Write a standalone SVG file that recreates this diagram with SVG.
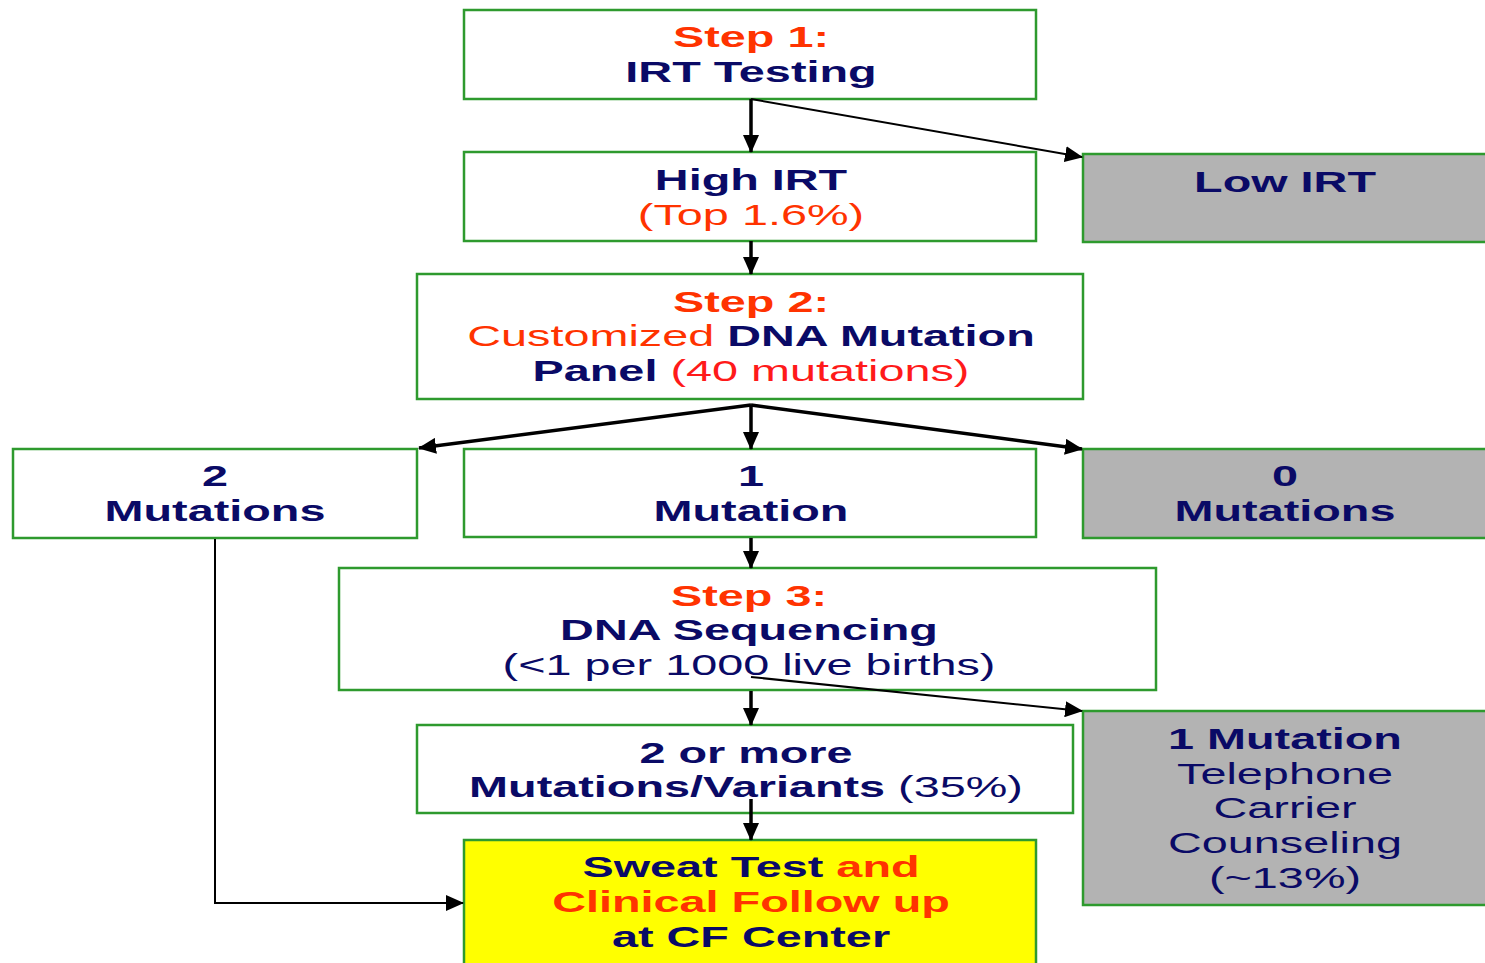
<svg xmlns="http://www.w3.org/2000/svg" width="1485" height="963" viewBox="0 0 1485 963">
<style>
.box{fill:#ffffff;stroke:#2e9a2e;stroke-width:2.5}
.gray{fill:#b3b3b3;stroke:#2e9a2e;stroke-width:2.5}
.yel{fill:#ffff00;stroke:#2e9a2e;stroke-width:2.5}
text{font-family:"Liberation Sans",Arial,sans-serif;font-size:30px;text-anchor:middle}
.b{font-weight:bold}
.n{fill:#0a0a66}
.o{fill:#ff3300}
.r{fill:#ff1a1a}
.c{fill:none;stroke:#000;stroke-width:3.5}
.t{fill:none;stroke:#000;stroke-width:2}
</style>
<defs>
<marker id="ah" markerUnits="userSpaceOnUse" markerWidth="18" markerHeight="16" refX="17" refY="8" orient="auto" viewBox="0 0 18 16">
<path d="M0,0 L18,8 L0,16 z" fill="#000"/>
</marker>
</defs>
<rect width="1485" height="963" fill="#fff"/>
<g id="step1">
<rect class="box" x="464" y="10" width="572" height="89"/>
<g transform="translate(751,0) scale(1.56,1)">
<text class="b o" x="0" y="47">Step 1:</text>
<text class="b n" x="0" y="82">IRT Testing</text>
</g>
</g>
<g id="high-irt">
<rect class="box" x="464" y="152" width="572" height="89"/>
<g transform="translate(751,0) scale(1.56,1)">
<text class="b n" x="0" y="190">High IRT</text>
<text class="o" x="0" y="225">(Top 1.6%)</text>
</g>
</g>
<g id="low-irt">
<rect class="gray" x="1083" y="154" width="410" height="88"/>
<g transform="translate(1285,0) scale(1.56,1)">
<text class="b n" x="0" y="192">Low IRT</text>
</g>
</g>
<g id="step2">
<rect class="box" x="417" y="274" width="666" height="125"/>
<g transform="translate(751,0) scale(1.56,1)">
<text class="b o" x="0" y="312">Step 2:</text>
<text x="0" y="346"><tspan class="o">Customized </tspan><tspan class="b n">DNA Mutation</tspan></text>
<text x="0" y="381"><tspan class="b n">Panel </tspan><tspan class="r">(40 mutations)</tspan></text>
</g>
</g>
<g id="two-mutations">
<rect class="box" x="13" y="449" width="404" height="89"/>
<g transform="translate(215,0) scale(1.56,1)">
<text class="b n" x="0" y="486">2</text>
<text class="b n" x="0" y="521">Mutations</text>
</g>
</g>
<g id="one-mutation">
<rect class="box" x="464" y="449" width="572" height="88"/>
<g transform="translate(751,0) scale(1.56,1)">
<text class="b n" x="0" y="486">1</text>
<text class="b n" x="0" y="521">Mutation</text>
</g>
</g>
<g id="zero-mutations">
<rect class="gray" x="1083" y="449" width="410" height="89"/>
<g transform="translate(1285,0) scale(1.56,1)">
<text class="b n" x="0" y="486">0</text>
<text class="b n" x="0" y="521">Mutations</text>
</g>
</g>
<g id="step3">
<rect class="box" x="339" y="568" width="817" height="122"/>
<g transform="translate(749,0) scale(1.56,1)">
<text class="b o" x="0" y="606">Step 3:</text>
<text class="b n" x="0" y="640">DNA Sequencing</text>
<text class="n" x="0" y="675">(&lt;1 per 1000 live births)</text>
</g>
</g>
<g id="two-or-more">
<rect class="box" x="417" y="725" width="656" height="88"/>
<g transform="translate(746,0) scale(1.56,1)">
<text class="b n" x="0" y="763">2 or more</text>
<text x="0" y="797"><tspan class="b n">Mutations/Variants </tspan><tspan class="n">(35%)</tspan></text>
</g>
</g>
<g id="carrier-counseling">
<rect class="gray" x="1083" y="711" width="410" height="194"/>
<g transform="translate(1285,0) scale(1.56,1)">
<text class="b n" x="0" y="749">1 Mutation</text>
<text class="n" x="0" y="784">Telephone</text>
<text class="n" x="0" y="818">Carrier</text>
<text class="n" x="0" y="853">Counseling</text>
<text class="n" x="0" y="888">(~13%)</text>
</g>
</g>
<g id="sweat-test">
<rect class="yel" x="464" y="840" width="572" height="130"/>
<g transform="translate(751,0) scale(1.56,1)">
<text x="0" y="877"><tspan class="b n">Sweat Test </tspan><tspan class="b o">and</tspan></text>
<text class="b o" x="0" y="912">Clinical Follow up</text>
<text class="b n" x="0" y="947">at CF Center</text>
</g>
</g>
<g id="connectors">
<line class="c" x1="751" y1="99" x2="751" y2="152" marker-end="url(#ah)"/>
<line class="t" x1="751" y1="99" x2="1082" y2="157" marker-end="url(#ah)"/>
<line class="c" x1="751" y1="241" x2="751" y2="274" marker-end="url(#ah)"/>
<line class="c" x1="751" y1="405" x2="751" y2="449" marker-end="url(#ah)"/>
<line class="c" x1="751" y1="405" x2="419" y2="448" marker-end="url(#ah)"/>
<line class="c" x1="751" y1="405" x2="1082" y2="449" marker-end="url(#ah)"/>
<line class="c" x1="751" y1="538" x2="751" y2="568" marker-end="url(#ah)"/>
<polyline class="t" points="215,539 215,903 463,903" marker-end="url(#ah)"/>
<line class="t" x1="751" y1="677" x2="1082" y2="711" marker-end="url(#ah)"/>
<line class="c" x1="751" y1="691" x2="751" y2="725" marker-end="url(#ah)"/>
<line class="c" x1="751" y1="799" x2="751" y2="840" marker-end="url(#ah)"/>
</g>
</svg>
